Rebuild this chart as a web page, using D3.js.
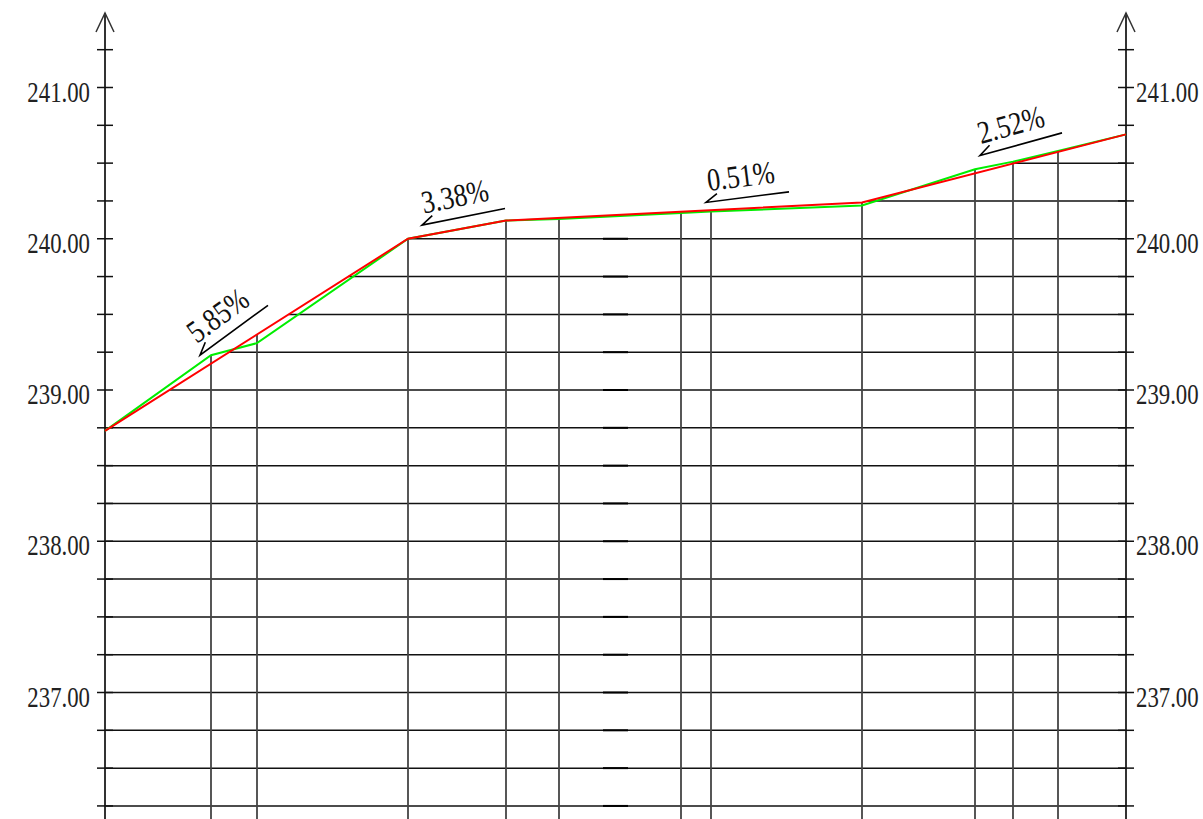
<!DOCTYPE html>
<html>
<head>
<meta charset="utf-8">
<script src="https://cdn.jsdelivr.net/npm/d3@7"></script>
<style>
  html, body { margin: 0; padding: 0; background: #fff; }
  svg { display: block; }
</style>
</head>
<body>
<div id="chart"></div>
<script>
// stations (chainage) of the section points
var stations = [0, 10.6, 15.2, 30.3, 40.1, 45.4, 57.6, 60.6, 75.7, 87.0, 90.8, 95.3, 102.1];
// existing ground (green)
var groundElev = [238.73, 239.23, 239.31, 240.00, 240.12, 240.13, 240.17, 240.18, 240.22, 240.46, 240.51, 240.58, 240.69];
// design grade line (red)
var designStation = [0, 30.3, 40.1, 75.7, 102.1];
var designElev = [238.73, 240.00, 240.12, 240.24, 240.69];
// grade labels
var slopeText = ["5.85%", "3.38%", "0.51%", "2.52%"];
var slopeFrom = [[9.5, 239.23], [31.7, 240.09], [60.1, 240.24], [87.5, 240.55]];
var slopeTo = [[16.3, 239.56], [40.0, 240.20], [68.4, 240.31], [95.7, 240.70]];
// axis
var tickLabels = ["237.00", "238.00", "239.00", "240.00", "241.00"];
var tickStep = 0.25, tickMin = 236.25, tickMax = 241.25;

var W = 1203, H = 819;
var svg = d3.select("#chart").append("svg")
    .attr("width", W)
    .attr("height", H);

var x = d3.scaleLinear().domain([0, 102.1]).range([105, 1126]);
var y = d3.scaleLinear().domain([237, 241]).range([692.5, 87.5]);
var designAt = d3.scaleLinear().domain(designStation).range(designElev);
var stationAt = d3.scaleLinear().domain(designElev).range(designStation).clamp(true);

var levels = d3.range(tickMin, tickMax + 0.001, tickStep);
var gridLevels = levels.filter(function(v) { return v <= 240.5 + 1e-6; });

// horizontal grid below the grade line
svg.append("g").selectAll("line")
    .data(gridLevels)
    .enter().append("line")
    .attr("x1", function(d) { return x(stationAt(d)); })
    .attr("x2", x(102.1))
    .attr("y1", function(d) { return y(d); })
    .attr("y2", function(d) { return y(d); })
    .attr("stroke", "#111")
    .attr("stroke-width", 1.5);

// slightly darker dash mid-way
svg.append("g").selectAll("line")
    .data(gridLevels.filter(function(v) { return v <= 240.0001; }))
    .enter().append("line")
    .attr("x1", x(49.8)).attr("x2", x(52.3))
    .attr("y1", function(d) { return y(d); })
    .attr("y2", function(d) { return y(d); })
    .attr("stroke", "#000")
    .attr("stroke-width", 2);

// vertical lines at each station
svg.append("g").selectAll("line")
    .data(stations.slice(1, stations.length - 1).map(function(s, i) {
        return { s: s, top: Math.max(groundElev[i + 1], designAt(s)) };
    }))
    .enter().append("line")
    .attr("x1", function(d) { return x(d.s); })
    .attr("x2", function(d) { return x(d.s); })
    .attr("y1", function(d) { return y(d.top); })
    .attr("y2", H)
    .attr("stroke", "#444")
    .attr("stroke-width", 1.8);

// axes (both sides)
[0, 102.1].forEach(function(s, k) {
    var ax = x(s);
    var g = svg.append("g");
    g.append("line")
        .attr("x1", ax).attr("x2", ax)
        .attr("y1", 13).attr("y2", H)
        .attr("stroke", "#333").attr("stroke-width", 2);
    g.append("path")
        .attr("d", "M" + (ax - 9) + ",32L" + ax + ",13L" + (ax + 9) + ",32")
        .attr("fill", "none").attr("stroke", "#333").attr("stroke-width", 1.5);
    g.selectAll("line.tick")
        .data(levels)
        .enter().append("line")
        .attr("class", "tick")
        .attr("x1", ax - 8).attr("x2", ax + 8)
        .attr("y1", function(d) { return y(d); })
        .attr("y2", function(d) { return y(d); })
        .attr("stroke", "#111").attr("stroke-width", 1.5);
    // condensed serif labels
    g.selectAll("text")
        .data(tickLabels)
        .enter().append("text")
        .attr("transform", function(d) {
            return "translate(" + (k === 0 ? ax - 15 : ax + 10) + "," + (y(+d) + 14) + ") scale(0.76,1)";
        })
        .attr("text-anchor", k === 0 ? "end" : "start")
        .style("font-family", "'Liberation Serif', 'DejaVu Serif', serif")
        .style("font-size", "30px")
        .attr("fill", "#222")
        .text(function(d) { return d; });
});

// ground line
var line = d3.line()
    .x(function(d) { return x(d[0]); })
    .y(function(d) { return y(d[1]); });

svg.append("path")
    .datum(d3.zip(stations, groundElev))
    .attr("d", line)
    .attr("fill", "none")
    .attr("stroke", "#00ee00")
    .attr("stroke-width", 2);

svg.append("path")
    .datum(d3.zip(designStation, designElev))
    .attr("d", line)
    .attr("fill", "none")
    .attr("stroke", "#ff0000")
    .attr("stroke-width", 2);

// grade annotations
slopeText.forEach(function(t, i) {
    var x0 = x(slopeFrom[i][0]), y0 = y(slopeFrom[i][1]);
    var x1 = x(slopeTo[i][0]), y1 = y(slopeTo[i][1]);
    var ang = Math.atan2(y1 - y0, x1 - x0);
    var hk = ang - 0.55;
    var g = svg.append("g");
    g.append("path")
        .attr("d", "M" + (x0 + 14 * Math.cos(hk)) + "," + (y0 + 14 * Math.sin(hk)) +
            "L" + x0 + "," + y0 + "L" + x1 + "," + y1)
        .attr("fill", "none")
        .attr("stroke", "#000")
        .attr("stroke-width", 1.6);
    g.append("text")
        .attr("transform", "translate(" + x0 + "," + y0 + ") rotate(" + (ang * 180 / Math.PI) + ") translate(4,-11) scale(0.82,1)")
        .style("font-family", "'Liberation Serif', 'DejaVu Serif', serif")
        .style("font-size", "32px")
        .attr("fill", "#111")
        .text(t);
});
</script>
</body>
</html>
